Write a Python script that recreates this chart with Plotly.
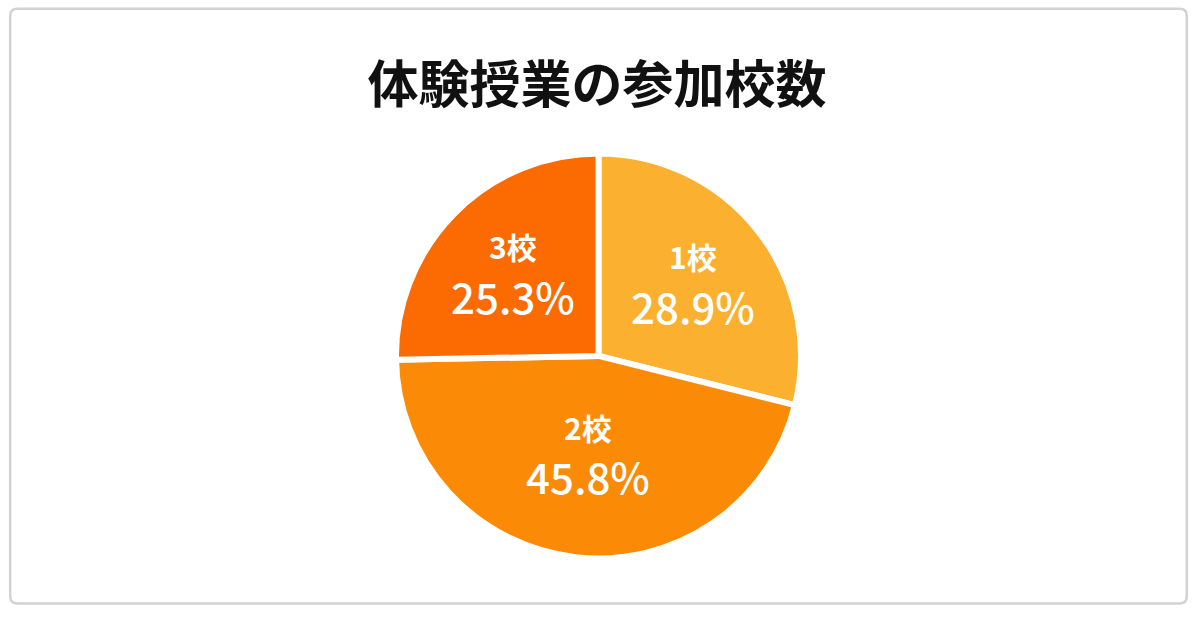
import math
import plotly.graph_objects as go

# data
labels = ["1校", "2校", "3校"]
shares = [28.9, 45.8, 25.3]
colors = ["#fbb12f", "#fb8b07", "#fc6a02"]

title_text = "体験授業の参加校数"

W, H = 1200, 619
dom_x = [0.3300, 0.6675]
dom_y = [0.0935, 0.7565]

fig = go.Figure()

fig.add_trace(go.Pie(
    labels=labels,
    values=shares,
    sort=False,
    direction="clockwise",
    rotation=0,
    marker=dict(colors=colors, line=dict(color="white", width=6)),
    textinfo="none",
    hoverinfo="skip",
    showlegend=False,
    domain=dict(x=dom_x, y=dom_y),
))

# slice labels: placed along each slice's middle angle, worked out from the shares
cx = (dom_x[0] + dom_x[1]) / 2 * W
cy = (dom_y[0] + dom_y[1]) / 2 * H
radius = min((dom_x[1] - dom_x[0]) * W, (dom_y[1] - dom_y[0]) * H) / 2
label_r = [0.59, 0.48, 0.59]
total = sum(shares)
start = 0.0
for lab, val, rf in zip(labels, shares, label_r):
    mid = (start + val / 2) / total * 2 * math.pi
    start += val
    px = cx + rf * radius * math.sin(mid)
    py = cy + rf * radius * math.cos(mid)
    fig.add_annotation(x=px / W, y=py / H, xref="paper", yref="paper",
                       xanchor="center", yanchor="middle",
                       text=lab, showarrow=False, yshift=26,
                       font=dict(family="Noto Sans CJK JP", size=30, color="white", weight="bold"))
    fig.add_annotation(x=px / W, y=py / H, xref="paper", yref="paper",
                       xanchor="center", yanchor="middle",
                       text=f"{val:.1f}%", showarrow=False, yshift=-23,
                       font=dict(family="Noto Sans CJK JP", size=42, color="white", weight=500))

# rounded grey frame round the whole card
r = 0.006
x0, x1 = 0.0085, 0.989
y0, y1 = 0.025, 0.986
ry = r * W / H
frame = (f"M {x0 + r},{y1} L {x1 - r},{y1} Q {x1},{y1} {x1},{y1 - ry} "
         f"L {x1},{y0 + ry} Q {x1},{y0} {x1 - r},{y0} "
         f"L {x0 + r},{y0} Q {x0},{y0} {x0},{y0 + ry} "
         f"L {x0},{y1 - ry} Q {x0},{y1} {x0 + r},{y1} Z")
fig.add_shape(type="path", path=frame, xref="paper", yref="paper",
              line=dict(color="#d2d2d2", width=2.5), fillcolor="rgba(0,0,0,0)")

fig.update_layout(
    width=W,
    height=H,
    margin=dict(l=0, r=0, t=0, b=0),
    paper_bgcolor="white",
    plot_bgcolor="white",
    title=dict(
        text=title_text,
        x=0.4975,
        xanchor="center",
        y=0.862,
        yanchor="middle",
        font=dict(family="Noto Sans CJK JP", size=51, color="#111111", weight="bold"),
    ),
)

fig.write_html("out.html", config={"displayModeBar": False},
               post_script="document.body.style.margin='0';")
